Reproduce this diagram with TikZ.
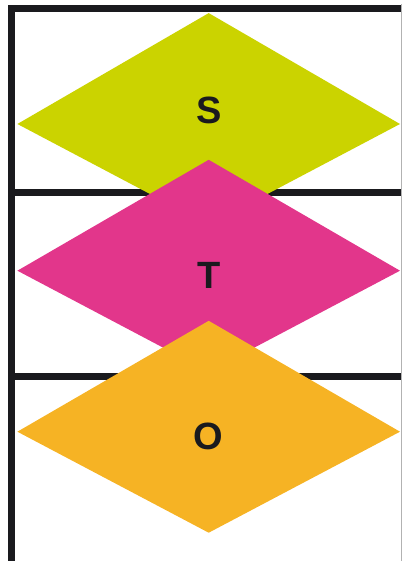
\documentclass[tikz,border=0pt]{standalone}
\usepackage{fontspec}
\setmainfont{Liberation Sans}
\usepackage{xcolor}
\usepackage{tikz}
\definecolor{sto_lime}{RGB}{203,211,0}
\definecolor{sto_pink}{RGB}{226,54,139}
\definecolor{sto_orange}{RGB}{246,179,36}
\definecolor{sto_ink}{RGB}{26,26,30}

\begin{document}
\begin{tikzpicture}[x=1pt, y=-1pt,
    rail/.style={draw=sto_ink, line width=7pt},
    rhomb/.pic={\fill[pic actions] (0,-110.9) -- (191.3,0) -- (0,101) -- (-191.3,0) -- cycle;},
    letter/.style={font=\fontsize{38}{38}\selectfont\bfseries, text=sto_ink, inner sep=0pt}]
  \useasboundingbox (0,0) rectangle (402,561);
  % Frame and row rules
  \coordinate (topright) at (402,8.3);
  \coordinate (corner) at (11.5,8.3);
  \coordinate (bottomleft) at (11.5,561);
  \draw[rail, line join=miter] (topright) -- (corner) -- (bottomleft);
  \draw[rail] (11.5,192.5) -- (402,192.5);
  \draw[rail] (11.5,376.7) -- (402,376.7);
  \draw[gray!60, line width=0.8pt] (401.4,4.5) -- (401.4,561);
  % Diamonds, each overlapping the one above
  \pic[fill=sto_lime] (s) at (208.7,124) {rhomb};
  \node[letter] (slabel) at (208.7,110.3) {S};
  \pic[fill=sto_pink] (t) at (208.7,270.7) {rhomb};
  \node[letter] (tlabel) at (208.7,275) {T};
  \pic[fill=sto_orange] (o) at (208.7,431.7) {rhomb};
  \node[letter] (olabel) at (208.7,436.7) {O};
\end{tikzpicture}
\end{document}
